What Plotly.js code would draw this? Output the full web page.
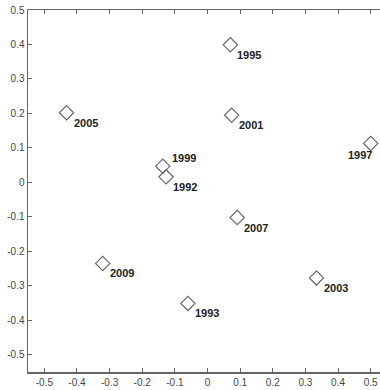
<!DOCTYPE html>
<html>
<head>
<meta charset="utf-8">
<script src="https://cdn.plot.ly/plotly-3.0.1.min.js"></script>
<style>
html,body{margin:0;padding:0;overflow:hidden;background:#fff;}
#chart{width:400px;height:390px;}
</style>
</head>
<body>
<div id="chart"></div>
<script>
// Data
var years = ['1992','1993','1995','1997','1999','2001','2003','2005','2007','2009'];
var xVals = [-0.127, -0.060, 0.070, 0.500, -0.137, 0.074, 0.334, -0.432, 0.091, -0.321];
var yVals = [0.016, -0.351, 0.399, 0.113, 0.047, 0.195, -0.277, 0.202, -0.102, -0.235];
var xTicks = [-0.5,-0.4,-0.3,-0.2,-0.1,0,0.1,0.2,0.3,0.4,0.5];
var yTicks = [-0.5,-0.4,-0.3,-0.2,-0.1,0,0.1,0.2,0.3,0.4,0.5];

// Label placement (style): where each label sits relative to its marker
var labelPlace = {'1999':'upright','1997':'downleft'};

var annotations = years.map(function(t,i){
  var p = labelPlace[t] || 'downright';
  var a = {x:xVals[i], y:yVals[i], text:t, showarrow:false,
    font:{family:'Liberation Sans, Arial, sans-serif', size:11, color:'#222', weight:'bold'},
    yanchor:'middle', borderpad:0};
  if(p==='downright'){a.xanchor='left'; a.xshift=6; a.yshift=-10;}
  else if(p==='upright'){a.xanchor='left'; a.xshift=8; a.yshift=8;}
  else {a.xanchor='right'; a.xshift=2; a.yshift=-12;}
  a.text = '<b>'+t+'</b>';
  return a;
});

var trace = {
  x:xVals, y:yVals, type:'scatter', mode:'markers',
  marker:{symbol:'diamond-open', size:11, color:'#666', line:{width:1.2, color:'#666'}},
  hoverinfo:'none', cliponaxis:false
};

var axisCommon = {
  showgrid:false, zeroline:false, showline:true, linecolor:'#666', linewidth:1.5,
  mirror:'ticks', ticks:'inside', ticklen:4, tickwidth:1, tickcolor:'#666',
  tickfont:{family:'Liberation Sans, Arial, sans-serif', size:10, color:'#444'},
  tickmode:'array', fixedrange:true
};

var layout = {
  width:400, height:390,
  margin:{l:28, r:13, t:10, b:18},
  paper_bgcolor:'#fff', plot_bgcolor:'#fff',
  showlegend:false,
  xaxis:Object.assign({}, axisCommon, {range:[-0.55,0.55], tickvals:xTicks, ticktext:xTicks.map(String)}),
  yaxis:Object.assign({}, axisCommon, {range:[-0.55,0.5], tickvals:yTicks, ticktext:yTicks.map(String)}),
  annotations:annotations
};

Plotly.newPlot('chart',[trace],layout,{staticPlot:true, displayModeBar:false});
</script>
</body>
</html>
